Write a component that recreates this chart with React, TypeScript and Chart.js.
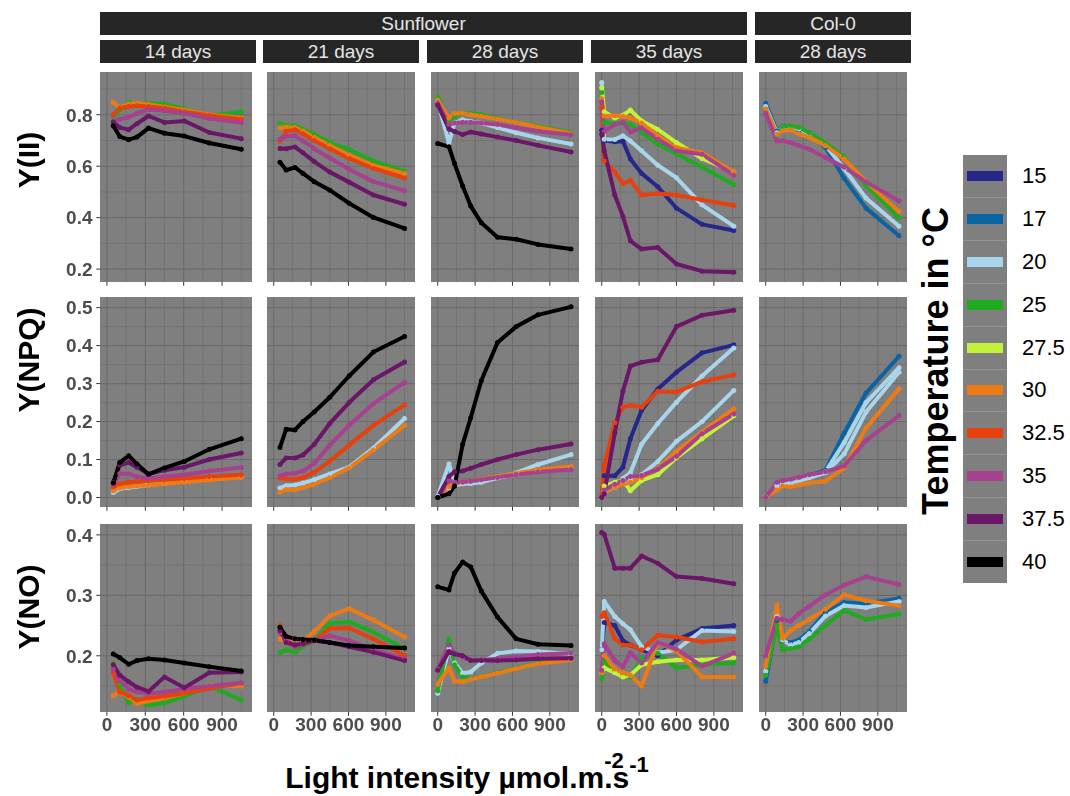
import React, { useEffect, useRef } from 'react';
import { Chart, registerables } from 'chart.js';

Chart.register(...registerables);

const FONT = '"Liberation Sans", Arial, Helvetica, sans-serif';

// Temperature levels (°C) and their colours
const TEMPS = ['15', '17', '20', '25', '27.5', '30', '32.5', '35', '37.5', '40'];
const COLOURS = ['#25288a', '#0a63a3', '#a8d5ea', '#1fab1f', '#c3f23a', '#ec7b16', '#e6400f', '#a6418f', '#6a1767', '#000000'];
// in the Y(NPQ) row the 25 °C series is drawn in light blue
const NPQ_COLOURS = ['#25288a', '#0a63a3', '#a8d5ea', '#a8d5ea', '#c3f23a', '#ec7b16', '#e6400f', '#a6418f', '#6a1767', '#000000'];

// Light steps of each light curve (µmol m-2 s-1)
const PAR_EARLY = [50, 100, 170, 235, 325, 450, 605, 800, 1050];
const PAR_28 = [0, 90, 135, 200, 265, 350, 480, 630, 805, 1070];
const PAR_35 = [0, 20, 105, 170, 230, 320, 450, 600, 805, 1060];

type Series = Record<string, number[]>;

// Sunflower, 14 days
const YII_14: Series = {
  '25': [0.794, 0.819, 0.848, 0.836, 0.845, 0.842, 0.822, 0.796, 0.812],
  '30': [0.848, 0.828, 0.842, 0.845, 0.840, 0.830, 0.818, 0.800, 0.787],
  '32.5': [0.800, 0.825, 0.832, 0.835, 0.832, 0.825, 0.812, 0.797, 0.782],
  '35': [0.774, 0.782, 0.790, 0.806, 0.820, 0.815, 0.806, 0.785, 0.770],
  '37.5': [0.772, 0.750, 0.742, 0.765, 0.795, 0.770, 0.776, 0.731, 0.707],
  '40': [0.757, 0.715, 0.703, 0.713, 0.748, 0.728, 0.717, 0.690, 0.666],
};
const YNPQ_14: Series = {
  '25': [0.013, 0.023, 0.026, 0.029, 0.033, 0.037, 0.043, 0.051, 0.056],
  '30': [0.018, 0.025, 0.028, 0.030, 0.032, 0.036, 0.040, 0.046, 0.053],
  '32.5': [0.028, 0.036, 0.040, 0.042, 0.044, 0.047, 0.050, 0.055, 0.060],
  '35': [0.035, 0.063, 0.062, 0.055, 0.050, 0.055, 0.060, 0.070, 0.079],
  '37.5': [0.040, 0.085, 0.092, 0.080, 0.062, 0.072, 0.080, 0.100, 0.117],
  '40': [0.038, 0.092, 0.110, 0.088, 0.061, 0.078, 0.095, 0.127, 0.155],
};
const YNO_14: Series = {
  '25': [0.187, 0.152, 0.122, 0.128, 0.118, 0.122, 0.133, 0.150, 0.127],
  '30': [0.134, 0.140, 0.132, 0.121, 0.125, 0.130, 0.138, 0.151, 0.150],
  '32.5': [0.172, 0.140, 0.134, 0.127, 0.130, 0.133, 0.138, 0.146, 0.155],
  '35': [0.178, 0.160, 0.145, 0.140, 0.138, 0.140, 0.145, 0.150, 0.155],
  '37.5': [0.185, 0.168, 0.157, 0.148, 0.141, 0.165, 0.147, 0.172, 0.173],
  '40': [0.203, 0.197, 0.186, 0.192, 0.195, 0.193, 0.188, 0.182, 0.175],
};

// Sunflower, 21 days
const YII_21: Series = {
  '25': [0.766, 0.757, 0.758, 0.744, 0.724, 0.692, 0.665, 0.620, 0.580],
  '30': [0.749, 0.752, 0.750, 0.737, 0.712, 0.680, 0.642, 0.603, 0.572],
  '32.5': [0.697, 0.736, 0.742, 0.726, 0.700, 0.668, 0.630, 0.592, 0.554],
  '35': [0.705, 0.716, 0.718, 0.698, 0.668, 0.632, 0.588, 0.540, 0.505],
  '37.5': [0.669, 0.668, 0.675, 0.652, 0.618, 0.577, 0.538, 0.488, 0.452],
  '40': [0.615, 0.585, 0.595, 0.572, 0.540, 0.507, 0.456, 0.401, 0.358],
};
const YNPQ_21: Series = {
  '25': [0.025, 0.031, 0.033, 0.038, 0.047, 0.062, 0.080, 0.130, 0.208],
  '30': [0.014, 0.021, 0.020, 0.026, 0.035, 0.052, 0.078, 0.125, 0.190],
  '32.5': [0.051, 0.049, 0.048, 0.053, 0.066, 0.096, 0.138, 0.190, 0.244],
  '35': [0.057, 0.062, 0.064, 0.070, 0.090, 0.138, 0.190, 0.247, 0.303],
  '37.5': [0.087, 0.104, 0.104, 0.112, 0.140, 0.195, 0.250, 0.310, 0.357],
  '40': [0.132, 0.180, 0.178, 0.200, 0.225, 0.264, 0.320, 0.383, 0.424],
};
const YNO_21: Series = {
  '25': [0.205, 0.210, 0.206, 0.215, 0.225, 0.254, 0.256, 0.239, 0.212],
  '30': [0.228, 0.222, 0.228, 0.225, 0.240, 0.266, 0.278, 0.259, 0.231],
  '32.5': [0.250, 0.222, 0.215, 0.220, 0.225, 0.245, 0.246, 0.228, 0.200],
  '35': [0.238, 0.226, 0.215, 0.218, 0.225, 0.233, 0.225, 0.210, 0.195],
  '37.5': [0.242, 0.222, 0.218, 0.220, 0.225, 0.222, 0.215, 0.206, 0.192],
  '40': [0.247, 0.232, 0.228, 0.227, 0.226, 0.222, 0.217, 0.215, 0.213],
};

// Sunflower, 28 days
const YII_28: Series = {
  '20': [0.851, 0.690, 0.768, 0.780, 0.774, 0.768, 0.750, 0.730, 0.710, 0.686],
  '25': [0.870, 0.775, 0.794, 0.805, 0.806, 0.800, 0.784, 0.770, 0.755, 0.730],
  '30': [0.857, 0.787, 0.805, 0.806, 0.800, 0.794, 0.783, 0.770, 0.752, 0.727],
  '35': [0.845, 0.762, 0.768, 0.771, 0.771, 0.768, 0.762, 0.749, 0.736, 0.722],
  '37.5': [0.838, 0.745, 0.735, 0.723, 0.733, 0.725, 0.713, 0.700, 0.681, 0.655],
  '40': [0.688, 0.676, 0.610, 0.523, 0.445, 0.380, 0.324, 0.316, 0.296, 0.278],
};
const YNPQ_28: Series = {
  '20': [0.003, 0.088, 0.040, 0.036, 0.037, 0.040, 0.052, 0.065, 0.087, 0.113],
  '25': [0.0, 0.025, 0.032, 0.036, 0.040, 0.045, 0.052, 0.060, 0.070, 0.080],
  '30': [0.0, 0.028, 0.036, 0.040, 0.043, 0.048, 0.055, 0.064, 0.073, 0.082],
  '35': [0.0, 0.045, 0.040, 0.041, 0.043, 0.047, 0.053, 0.060, 0.067, 0.074],
  '37.5': [0.0, 0.055, 0.068, 0.070, 0.077, 0.087, 0.100, 0.113, 0.126, 0.141],
  '40': [0.0, 0.010, 0.030, 0.140, 0.210, 0.308, 0.408, 0.450, 0.481, 0.502],
};
const YNO_28: Series = {
  '20': [0.138, 0.212, 0.188, 0.171, 0.173, 0.188, 0.204, 0.208, 0.207, 0.203],
  '25': [0.142, 0.228, 0.185, 0.165, 0.162, 0.165, 0.172, 0.180, 0.188, 0.194],
  '30': [0.153, 0.180, 0.158, 0.157, 0.161, 0.165, 0.171, 0.179, 0.187, 0.193],
  '35': [0.178, 0.218, 0.203, 0.198, 0.193, 0.193, 0.195, 0.198, 0.202, 0.204],
  '37.5': [0.176, 0.207, 0.203, 0.200, 0.192, 0.192, 0.192, 0.193, 0.195, 0.196],
  '40': [0.314, 0.309, 0.337, 0.355, 0.347, 0.307, 0.264, 0.228, 0.219, 0.217],
};

// Sunflower, 35 days
const YII_35: Series = {
  '15': [0.740, 0.700, 0.695, 0.697, 0.628, 0.572, 0.520, 0.437, 0.374, 0.350],
  '20': [0.925, 0.705, 0.704, 0.718, 0.698, 0.660, 0.604, 0.555, 0.450, 0.367],
  '25': [0.886, 0.770, 0.765, 0.770, 0.762, 0.730, 0.686, 0.647, 0.596, 0.528],
  '27.5': [0.905, 0.812, 0.787, 0.798, 0.818, 0.776, 0.743, 0.692, 0.630, 0.577],
  '30': [0.862, 0.795, 0.796, 0.794, 0.788, 0.768, 0.718, 0.672, 0.652, 0.578],
  '32.5': [0.830, 0.620, 0.577, 0.532, 0.545, 0.488, 0.494, 0.488, 0.469, 0.447],
  '35': [0.850, 0.735, 0.762, 0.771, 0.733, 0.748, 0.705, 0.660, 0.646, 0.565],
  '37.5': [0.724, 0.660, 0.488, 0.405, 0.310, 0.278, 0.284, 0.220, 0.192, 0.188],
};
const YNPQ_35: Series = {
  '15': [0.0, 0.057, 0.057, 0.080, 0.155, 0.230, 0.286, 0.330, 0.381, 0.402],
  '20': [0.0, 0.015, 0.027, 0.050, 0.065, 0.140, 0.195, 0.251, 0.320, 0.394],
  '25': [0.0, 0.020, 0.030, 0.038, 0.045, 0.060, 0.095, 0.148, 0.200, 0.282],
  '27.5': [0.0, 0.030, 0.040, 0.045, 0.018, 0.045, 0.060, 0.105, 0.155, 0.215],
  '30': [0.0, 0.015, 0.027, 0.035, 0.040, 0.053, 0.078, 0.122, 0.173, 0.234],
  '32.5': [0.003, 0.085, 0.197, 0.238, 0.243, 0.238, 0.280, 0.278, 0.305, 0.323],
  '35': [0.0, 0.020, 0.035, 0.045, 0.055, 0.058, 0.075, 0.108, 0.168, 0.220],
  '37.5': [0.0, 0.010, 0.170, 0.280, 0.346, 0.356, 0.363, 0.450, 0.480, 0.493],
};
const YNO_35: Series = {
  '15': [0.210, 0.255, 0.250, 0.225, 0.218, 0.210, 0.200, 0.226, 0.245, 0.250],
  '20': [0.210, 0.290, 0.265, 0.253, 0.243, 0.215, 0.205, 0.210, 0.242, 0.240],
  '25': [0.162, 0.190, 0.175, 0.168, 0.165, 0.195, 0.204, 0.180, 0.185, 0.188],
  '27.5': [0.172, 0.180, 0.172, 0.165, 0.168, 0.185, 0.190, 0.193, 0.193, 0.197],
  '30': [0.172, 0.200, 0.178, 0.172, 0.168, 0.150, 0.222, 0.208, 0.165, 0.165],
  '32.5': [0.265, 0.271, 0.228, 0.218, 0.218, 0.210, 0.234, 0.231, 0.223, 0.228],
  '35': [0.176, 0.220, 0.192, 0.182, 0.205, 0.188, 0.222, 0.211, 0.183, 0.204],
  '37.5': [0.404, 0.401, 0.345, 0.345, 0.345, 0.365, 0.353, 0.331, 0.328, 0.319],
};

// Col-0, 28 days
const YII_COL0: Series = {
  '17': [0.845, 0.736, 0.755, 0.753, 0.740, 0.724, 0.673, 0.552, 0.437, 0.330],
  '20': [0.832, 0.730, 0.752, 0.752, 0.745, 0.725, 0.680, 0.590, 0.476, 0.367],
  '25': [0.820, 0.723, 0.753, 0.756, 0.750, 0.730, 0.690, 0.635, 0.526, 0.398],
  '30': [0.822, 0.724, 0.738, 0.742, 0.725, 0.712, 0.680, 0.628, 0.540, 0.424],
  '35': [0.806, 0.698, 0.699, 0.692, 0.680, 0.666, 0.634, 0.596, 0.539, 0.465],
};
const YNPQ_COL0: Series = {
  '17': [0.0, 0.035, 0.038, 0.042, 0.050, 0.058, 0.072, 0.170, 0.275, 0.372],
  '20': [0.0, 0.033, 0.036, 0.040, 0.046, 0.055, 0.068, 0.145, 0.250, 0.342],
  '25': [0.0, 0.030, 0.035, 0.038, 0.044, 0.052, 0.065, 0.115, 0.225, 0.330],
  '30': [0.0, 0.020, 0.030, 0.028, 0.033, 0.038, 0.043, 0.078, 0.183, 0.286],
  '35': [0.0, 0.040, 0.044, 0.048, 0.053, 0.060, 0.068, 0.083, 0.150, 0.216],
};
const YNO_COL0: Series = {
  '17': [0.158, 0.258, 0.225, 0.222, 0.226, 0.240, 0.272, 0.288, 0.286, 0.295],
  '20': [0.174, 0.265, 0.226, 0.218, 0.222, 0.237, 0.266, 0.283, 0.280, 0.290],
  '25': [0.168, 0.250, 0.210, 0.212, 0.215, 0.228, 0.250, 0.275, 0.260, 0.269],
  '30': [0.183, 0.284, 0.229, 0.242, 0.250, 0.260, 0.277, 0.301, 0.291, 0.283],
  '35': [0.200, 0.262, 0.260, 0.257, 0.270, 0.282, 0.301, 0.317, 0.331, 0.318],
};

// Shared x axis
const X_MIN = -54;
const X_MAX = 1134;
const X_BREAKS = [0, 300, 600, 900];
const X_MINOR = [150, 450, 750, 1050];

// One entry per facet row
const ROWS = [
  { title: 'Y(II)', min: 0.15, max: 0.966, breaks: [0.2, 0.4, 0.6, 0.8], minor: [0.3, 0.5, 0.7, 0.9], colours: COLOURS, titleY: 160 },
  { title: 'Y(NPQ)', min: -0.025, max: 0.528, breaks: [0, 0.1, 0.2, 0.3, 0.4, 0.5], minor: [0.05, 0.15, 0.25, 0.35, 0.45], colours: NPQ_COLOURS, titleY: 360 },
  { title: 'Y(NO)', min: 0.107, max: 0.418, breaks: [0.2, 0.3, 0.4], minor: [0.15, 0.25, 0.35], colours: COLOURS, titleY: 607 },
];

// One entry per facet column
const COLUMNS = [
  { strip: '14 days', par: PAR_EARLY, rows: [YII_14, YNPQ_14, YNO_14] },
  { strip: '21 days', par: PAR_EARLY, rows: [YII_21, YNPQ_21, YNO_21] },
  { strip: '28 days', par: PAR_28, rows: [YII_28, YNPQ_28, YNO_28] },
  { strip: '35 days', par: PAR_35, rows: [YII_35, YNPQ_35, YNO_35] },
  { strip: '28 days', par: PAR_28, rows: [YII_COL0, YNPQ_COL0, YNO_COL0] },
];

// Panel geometry
const COL_LEFT = [100, 263, 427, 591, 755];
const PANEL_W = 156;
const ROW_TOP = [68, 293, 520];
const ROW_H = [214, 214, 192];
const PAD_LEFT_FIRST = 70;

const AXIS_TEXT = '#4d4d4d';
const TICK_FONT = `bold 19px ${FONT}`;

function facetPlugin(rowIdx: number, showY: boolean, showX: boolean) {
  const row = ROWS[rowIdx];
  return {
    id: 'facet',
    beforeDatasetsDraw(chart: any) {
      const { ctx, chartArea: a } = chart;
      const xs = chart.scales.x;
      const ys = chart.scales.y;
      ctx.save();
      ctx.fillStyle = '#7f7f7f';
      ctx.fillRect(a.left, a.top, a.right - a.left, a.bottom - a.top);
      ctx.strokeStyle = '#6b6b6b';
      const vline = (v: number) => {
        const p = xs.getPixelForValue(v);
        if (p < a.left || p > a.right) return;
        ctx.beginPath();
        ctx.moveTo(p, a.top);
        ctx.lineTo(p, a.bottom);
        ctx.stroke();
      };
      const hline = (v: number) => {
        const p = ys.getPixelForValue(v);
        if (p < a.top || p > a.bottom) return;
        ctx.beginPath();
        ctx.moveTo(a.left, p);
        ctx.lineTo(a.right, p);
        ctx.stroke();
      };
      ctx.lineWidth = 0.6;
      X_MINOR.forEach(vline);
      row.minor.forEach(hline);
      ctx.lineWidth = 1.1;
      X_BREAKS.forEach(vline);
      row.breaks.forEach(hline);
      ctx.restore();
    },
    afterDraw(chart: any) {
      const { ctx, chartArea: a } = chart;
      const xs = chart.scales.x;
      const ys = chart.scales.y;
      ctx.save();
      ctx.strokeStyle = '#333333';
      ctx.lineWidth = 1;
      ctx.fillStyle = AXIS_TEXT;
      ctx.font = TICK_FONT;
      X_BREAKS.forEach((v) => {
        const p = xs.getPixelForValue(v);
        ctx.beginPath();
        ctx.moveTo(p, a.bottom);
        ctx.lineTo(p, a.bottom + 3.7);
        ctx.stroke();
        if (showX) {
          ctx.textAlign = 'center';
          ctx.textBaseline = 'alphabetic';
          ctx.fillText(String(v), p, a.bottom + 19);
        }
      });
      if (showY) {
        row.breaks.forEach((v) => {
          const p = ys.getPixelForValue(v);
          ctx.beginPath();
          ctx.moveTo(a.left - 3.7, p);
          ctx.lineTo(a.left, p);
          ctx.stroke();
          ctx.textAlign = 'right';
          ctx.textBaseline = 'alphabetic';
          ctx.fillText(v.toFixed(1), a.left - 7.5, p + 6.8);
        });
      }
      ctx.restore();
    },
  };
}

function buildDatasets(par: number[], series: Series, colours: string[]) {
  const lines: any[] = [];
  const points: any[] = [];
  TEMPS.forEach((t, i) => {
    const vals = series[t];
    if (!vals) return;
    const data = par.map((x, k) => ({ x, y: vals[k] }));
    const c = colours[i];
    lines.push({
      label: t,
      data,
      borderColor: c,
      backgroundColor: c,
      borderWidth: 4,
      borderJoinStyle: 'round',
      borderCapStyle: 'round',
      pointRadius: 0,
      tension: 0,
      order: 20 - i,
    });
    points.push({
      label: t,
      data,
      showLine: false,
      pointRadius: 2.5,
      pointBorderWidth: 0,
      pointBackgroundColor: c,
      borderColor: c,
      backgroundColor: c,
      order: 10 - i,
    });
  });
  return [...lines, ...points];
}

function Panel({ row, col }: { row: number; col: number }) {
  const ref = useRef<HTMLCanvasElement>(null);
  const padL = col === 0 ? PAD_LEFT_FIRST : 0;
  const padB = row === 2 ? 28 : 6;
  const w = PANEL_W + padL;
  const h = ROW_H[row] + padB;

  useEffect(() => {
    const spec = COLUMNS[col];
    const r = ROWS[row];
    const chart = new Chart(ref.current as HTMLCanvasElement, {
      type: 'line',
      data: { datasets: buildDatasets(spec.par, spec.rows[row], r.colours) },
      options: {
        animation: false,
        responsive: false,
        events: [],
        layout: { padding: { left: padL, right: 0, top: 0, bottom: padB } },
        scales: {
          x: { type: 'linear', min: X_MIN, max: X_MAX, display: false },
          y: { type: 'linear', min: r.min, max: r.max, display: false },
        },
        plugins: { legend: { display: false }, tooltip: { enabled: false } },
      },
      plugins: [facetPlugin(row, col === 0, row === 2)],
    } as any);
    return () => chart.destroy();
  }, [row, col]);

  return (
    <canvas
      ref={ref}
      width={w}
      height={h}
      style={{ position: 'absolute', left: COL_LEFT[col] - padL, top: ROW_TOP[row], width: w, height: h }}
    />
  );
}

function Strip({ left, top, width, text }: { left: number; top: number; width: number; text: string }) {
  return (
    <div
      style={{
        position: 'absolute',
        left,
        top,
        width,
        height: 23,
        background: '#262626',
        color: '#e5e5e5',
        font: `19px ${FONT}`,
        lineHeight: '23px',
        textAlign: 'center',
        whiteSpace: 'nowrap',
      }}
    >
      {text}
    </div>
  );
}

function VText({ x, y, size, text }: { x: number; y: number; size: number; text: string }) {
  return (
    <div
      style={{
        position: 'absolute',
        left: x,
        top: y,
        transform: 'translate(-50%, -50%) rotate(-90deg)',
        whiteSpace: 'nowrap',
        font: `bold ${size}px ${FONT}`,
        lineHeight: 1,
        color: '#000',
      }}
    >
      {text}
    </div>
  );
}

const LEGEND_TOP = 155;
const LEGEND_KEY_H = 42.8;

export default function App() {
  return (
    <div style={{ position: 'fixed', left: 0, top: 0, width: 1070, height: 796, background: '#fff', overflow: 'hidden', fontFamily: FONT }}>
      <Strip left={COL_LEFT[0]} top={12} width={COL_LEFT[3] + PANEL_W - COL_LEFT[0]} text="Sunflower" />
      <Strip left={COL_LEFT[4]} top={12} width={PANEL_W} text="Col-0" />
      {COLUMNS.map((c, i) => (
        <Strip key={`s${i}`} left={COL_LEFT[i]} top={40} width={PANEL_W} text={c.strip} />
      ))}

      {ROWS.map((_, ri) => COLUMNS.map((__, ci) => <Panel key={`p${ri}-${ci}`} row={ri} col={ci} />))}

      {ROWS.map((r, ri) => (
        <VText key={`t${ri}`} x={29} y={r.titleY} size={30} text={r.title} />
      ))}

      <div
        style={{
          position: 'absolute',
          left: 0,
          width: 934,
          top: 763,
          textAlign: 'center',
          font: `bold 30px ${FONT}`,
          lineHeight: '30px',
          whiteSpace: 'nowrap',
          color: '#000',
        }}
      >
        Light intensity µmol.m
        <span style={{ display: 'inline-block', width: 0, position: 'relative', top: -20, fontSize: 22 }}>-2</span>
        .s
        <span style={{ position: 'relative', top: -16, fontSize: 22 }}>-1</span>
      </div>

      <VText x={936} y={361} size={36} text="Temperature in °C" />

      <div style={{ position: 'absolute', left: 963, top: LEGEND_TOP, width: 44, height: LEGEND_KEY_H * TEMPS.length, background: '#7f7f7f' }}>
        {TEMPS.map((t, i) => (
          <React.Fragment key={t}>
            {i > 0 && (
              <div style={{ position: 'absolute', left: 0, width: 44, top: i * LEGEND_KEY_H - 0.5, height: 1, background: '#939393' }} />
            )}
            <div
              style={{
                position: 'absolute',
                left: 4,
                width: 36,
                top: i * LEGEND_KEY_H + LEGEND_KEY_H / 2 - 5,
                height: 10,
                background: COLOURS[i],
              }}
            />
          </React.Fragment>
        ))}
      </div>
      {TEMPS.map((t, i) => (
        <div
          key={`l${t}`}
          style={{
            position: 'absolute',
            left: 1022,
            top: LEGEND_TOP + i * LEGEND_KEY_H + LEGEND_KEY_H / 2,
            transform: 'translateY(-50%)',
            font: `22px ${FONT}`,
            lineHeight: 1,
            color: '#000',
          }}
        >
          {t}
        </div>
      ))}
    </div>
  );
}
